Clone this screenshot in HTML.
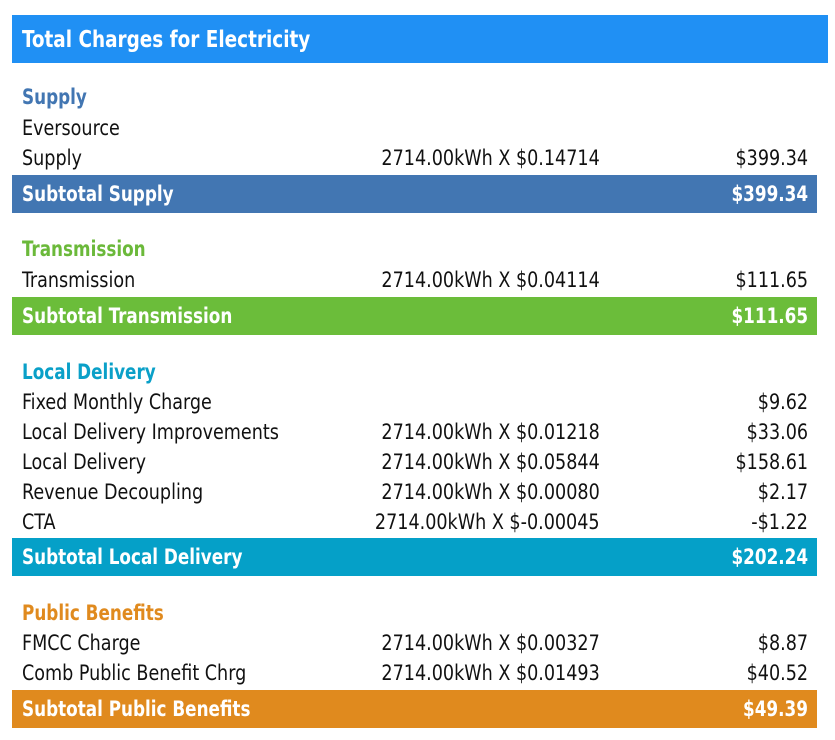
<!DOCTYPE html>
<html><head><meta charset="utf-8"><style>
body{margin:0;width:835px;height:740px;background:#fff;position:relative;overflow:hidden;font-family:"Liberation Sans Narrow","DejaVu Sans Condensed","Liberation Sans",sans-serif;font-size:21px;color:#111}
.r{position:absolute;height:26px;line-height:26px;white-space:nowrap;transform:scaleX(.93)}
.l{left:22px;transform-origin:left center}.m{right:235px;transform-origin:right center}.v{right:27px;transform-origin:right center}
.b{font-weight:bold;transform:scaleX(.89)}
.bar{position:absolute;left:12px;width:805px;height:38px}
.w{color:#fff;font-weight:bold;transform:scaleX(.89)}
</style></head><body>
<div style="position:absolute;left:12px;top:15px;width:816px;height:48px;background:#2090f4"></div>
<div class="r l w" style="top:27px;font-size:23px">Total Charges for Electricity</div>

<div class="r l b" style="top:84px;color:#4276b2">Supply</div>
<div class="r l" style="top:115px">Eversource</div>
<div class="r l" style="top:145px">Supply</div><div class="r m" style="top:145px">2714.00kWh X $0.14714</div><div class="r v" style="top:145px">$399.34</div>
<div class="bar" style="top:175px;background:#4276b2"></div>
<div class="r l w" style="top:181px">Subtotal Supply</div><div class="r v w" style="top:181px">$399.34</div>

<div class="r l b" style="top:236px;color:#6bb93a">Transmission</div>
<div class="r l" style="top:267px">Transmission</div><div class="r m" style="top:267px">2714.00kWh X $0.04114</div><div class="r v" style="top:267px">$111.65</div>
<div class="bar" style="top:297px;background:#6bbd3a"></div>
<div class="r l w" style="top:303px">Subtotal Transmission</div><div class="r v w" style="top:303px">$111.65</div>

<div class="r l b" style="top:359px;color:#0aa0c8">Local Delivery</div>
<div class="r l" style="top:389px">Fixed Monthly Charge</div><div class="r v" style="top:389px">$9.62</div>
<div class="r l" style="top:419px">Local Delivery Improvements</div><div class="r m" style="top:419px">2714.00kWh X $0.01218</div><div class="r v" style="top:419px">$33.06</div>
<div class="r l" style="top:449px">Local Delivery</div><div class="r m" style="top:449px">2714.00kWh X $0.05844</div><div class="r v" style="top:449px">$158.61</div>
<div class="r l" style="top:479px">Revenue Decoupling</div><div class="r m" style="top:479px">2714.00kWh X $0.00080</div><div class="r v" style="top:479px">$2.17</div>
<div class="r l" style="top:509px">CTA</div><div class="r m" style="top:509px">2714.00kWh X $-0.00045</div><div class="r v" style="top:509px">-$1.22</div>
<div class="bar" style="top:538px;background:#05a0c8"></div>
<div class="r l w" style="top:544px">Subtotal Local Delivery</div><div class="r v w" style="top:544px">$202.24</div>

<div class="r l b" style="top:600px;color:#e08a1e">Public Benefits</div>
<div class="r l" style="top:630px">FMCC Charge</div><div class="r m" style="top:630px">2714.00kWh X $0.00327</div><div class="r v" style="top:630px">$8.87</div>
<div class="r l" style="top:660px">Comb Public Benefit Chrg</div><div class="r m" style="top:660px">2714.00kWh X $0.01493</div><div class="r v" style="top:660px">$40.52</div>
<div class="bar" style="top:690px;background:#e08a1e"></div>
<div class="r l w" style="top:696px">Subtotal Public Benefits</div><div class="r v w" style="top:696px">$49.39</div>
</body></html>
